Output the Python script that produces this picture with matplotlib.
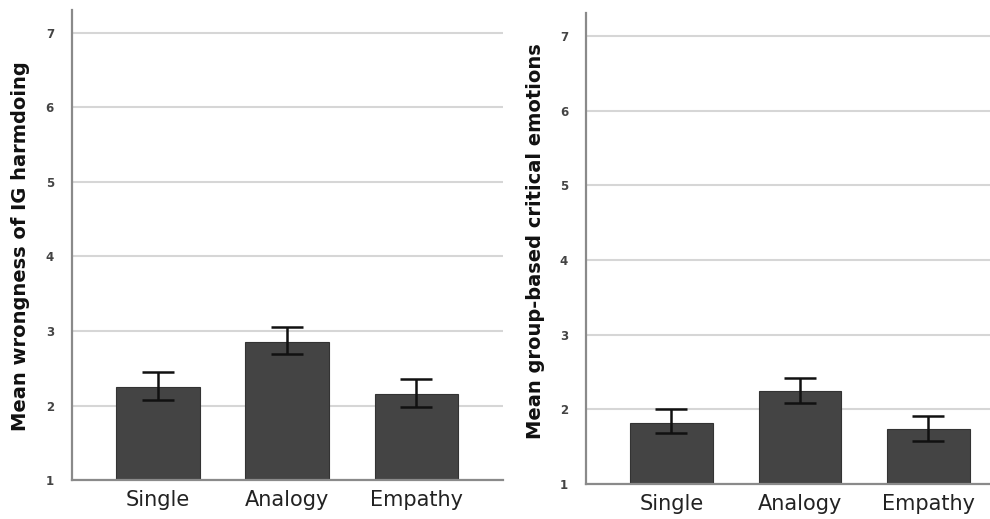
import matplotlib.pyplot as plt
import numpy as np

plt.rcParams["font.family"] = ["DejaVu Sans"]

# conditions on the x axis
conditions = ["Single", "Analogy", "Empathy"]

# wrongness of ingroup harmdoing: means and error bar ends
wrong_mean = [2.25, 2.85, 2.16]
wrong_low = [2.08, 2.69, 1.98]
wrong_high = [2.45, 3.05, 2.36]

# group-based critical emotions: means and error bar ends
emo_mean = [1.82, 2.25, 1.74]
emo_low = [1.68, 2.09, 1.58]
emo_high = [2.00, 2.42, 1.91]

yticks = [1, 2, 3, 4, 5, 6, 7]

fig = plt.figure(figsize=(9.9, 5.19), dpi=100)
fig.patch.set_facecolor("white")

ax1 = fig.add_axes([0.0727, 0.0751, 0.4353, 0.906])
ax2 = fig.add_axes([0.592, 0.0674, 0.408, 0.9076])


def draw_panel(ax, means, low, high, ylabel, label_x, label_y, xmax):
    idx = np.arange(len(conditions))
    means = np.array(means)
    err = [means - np.array(low), np.array(high) - means]
    ax.set_axisbelow(True)
    ax.yaxis.grid(True, color="#d6d6d6", linewidth=1.5)
    ax.bar(idx, means - 1, bottom=1, width=0.645, color="#444444",
           edgecolor="#333333", linewidth=0.8, zorder=2)
    ax.errorbar(idx, means, yerr=err, fmt="none", ecolor="#111111",
                elinewidth=1.8, capsize=11.5, capthick=1.8, zorder=3)
    ax.set_ylim(1, 7.31)
    ax.set_xlim(-0.665, xmax)
    ax.set_yticks(yticks)
    ax.set_yticklabels([str(t) for t in yticks], fontsize=8.5,
                       fontweight="bold", color="#444444")
    ax.set_xticks(idx)
    ax.set_xticklabels(conditions, fontsize=15, color="#222222")
    ax.tick_params(axis="y", length=0, pad=13)
    ax.tick_params(axis="x", length=0, pad=7)
    for side in ["top", "right"]:
        ax.spines[side].set_visible(False)
    for side in ["left", "bottom"]:
        ax.spines[side].set_color("#8a8a8a")
        ax.spines[side].set_linewidth(1.6)
    fig.text(label_x, label_y, ylabel, rotation=90, ha="center", va="center",
             fontsize=14, fontweight="bold", color="#111111")


draw_panel(ax1, wrong_mean, wrong_low, wrong_high,
           "Mean wrongness of IG harmdoing", 0.021, 0.525, 2.67)
draw_panel(ax2, emo_mean, emo_low, emo_high,
           "Mean group-based critical emotions", 0.541, 0.535, 2.48)

fig.savefig("out.png", dpi=100, facecolor="white")
